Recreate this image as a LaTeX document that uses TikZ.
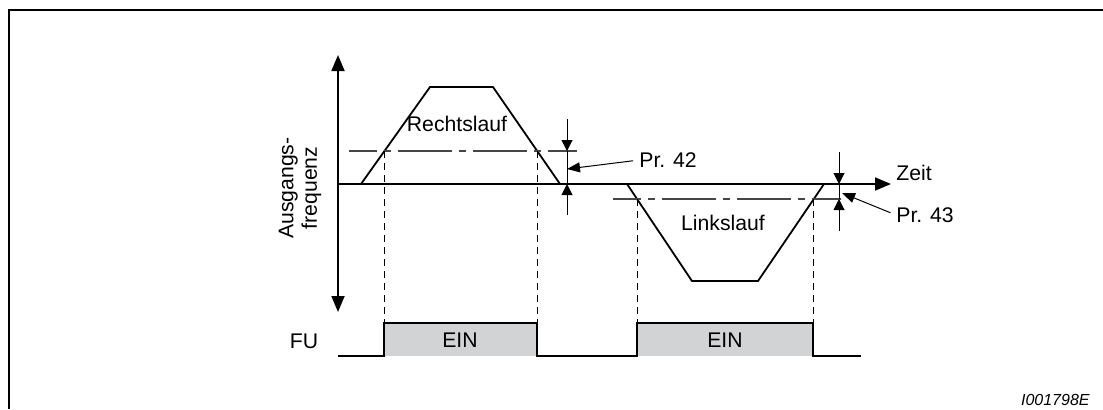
\documentclass[tikz,border=0pt]{standalone}
\usepackage{fontspec}
\setmainfont{Liberation Sans}
\usetikzlibrary{arrows.meta,positioning,calc}
\definecolor{einfill}{RGB}{210,211,213}
\definecolor{hilfsgrau}{RGB}{70,70,70}

\tikzset{
  achse/.style={line width=0.9pt,-{Triangle[length=8pt,width=6.5pt]}},
  kurve/.style={line width=0.9pt},
  strichpunkt/.style={hilfsgrau,line width=0.55pt,dash pattern=on 27pt off 3.5pt on 3.5pt off 3.5pt,dash phase=13pt},
  gestrichelt/.style={line width=0.5pt,dash pattern=on 3.5pt off 2.5pt},
  masslinie/.style={line width=0.5pt},
  masspfeil/.style={line width=0.5pt,-{Triangle[length=5.5pt,width=5.5pt]}},
  zeiger/.style={line width=0.5pt,shorten <=3pt,-{Triangle[length=6.5pt,width=5pt]}},
  txt/.style={inner sep=0pt}
}

\begin{document}
\begin{tikzpicture}[x=0.5pt,y=-0.5pt,font=\fontsize{10.6}{11.8}\selectfont]
\useasboundingbox (0,0) rectangle (1103,409);
\draw[line width=1pt] (9,409) -- (9,10) -- (1103,10);

\coordinate (yoben) at (338,55);
\coordinate (yunten) at (338,312);
\coordinate (null) at (338,184);
\coordinate (xende) at (891,184);
\draw[achse,{Triangle[length=8pt,width=6.5pt]}-{Triangle[length=8pt,width=6.5pt]}] (yunten) -- (yoben);
\draw[achse] (null) -- (xende);
\node[txt,anchor=west] (zeit) at (896,173) {Zeit};
\node[txt,rotate=90,align=center] (ausgang) at (300,188) {Ausgangs-\\frequenz};

\coordinate (r0) at (361,184);
\coordinate (r1) at (430,87);
\coordinate (r2) at (493,87);
\coordinate (r3) at (560,184);
\draw[kurve] (r0) -- (r1) -- (r2) -- (r3);
\node[txt] (rechts) at (457,124) {Rechtslauf};

\coordinate (l0) at (627,184);
\coordinate (l1) at (692,281);
\coordinate (l2) at (758,281);
\coordinate (l3) at (824,184);
\draw[kurve] (l0) -- (l1) -- (l2) -- (l3);
\node[txt] (links) at (723,223) {Linkslauf};

\coordinate (sr0) at (349,151);
\coordinate (sr1) at (577,151);
\coordinate (sl0) at (613,199);
\coordinate (sl1) at (841,199);
\draw[strichpunkt] (sr0) -- (sr1);
\draw[strichpunkt] (sl0) -- (sl1);

\fill[einfill] (384,323) rectangle (537,356);
\fill[einfill] (637,323) rectangle (813,356);
\coordinate (fu0) at (338,356);
\coordinate (fu1) at (384,356);
\coordinate (fu2) at (384,323);
\coordinate (fu3) at (537,323);
\coordinate (fu4) at (537,356);
\coordinate (fu5) at (637,356);
\coordinate (fu6) at (637,323);
\coordinate (fu7) at (813,323);
\coordinate (fu8) at (813,356);
\coordinate (fu9) at (861,356);
\draw[line width=0.8pt] (fu0) -- (fu1) -- (fu2) -- (fu3) -- (fu4) -- (fu5) -- (fu6) -- (fu7) -- (fu8) -- (fu9);
\node[txt] (fu) at (304,341) {FU};
\node[txt] (ein1) at (460,340) {EIN};
\node[txt] (ein2) at (725,340) {EIN};

\coordinate (d1) at (384,151);
\coordinate (d2) at (537,151);
\coordinate (d3) at (637,199);
\coordinate (d4) at (813,199);
\draw[gestrichelt] (d1) -- (fu2);
\draw[gestrichelt] (d2) -- (fu3);
\draw[gestrichelt] (d3) -- (fu6);
\draw[gestrichelt] (d4) -- (fu7);

\coordinate (m42o) at (567,119);
\coordinate (m42a) at (567,151);
\coordinate (m42b) at (567,184);
\coordinate (m42u) at (567,215);
\draw[masslinie] (m42a) -- (m42b);
\draw[masspfeil] (m42o) -- (m42a);
\draw[masspfeil] (m42u) -- (m42b);
\node[txt,anchor=west] (pr42) at (639,160) {Pr. 42};
\coordinate (z42) at (567,169);
\draw[zeiger] (pr42.west) -- (z42);

\coordinate (m43o) at (839,152);
\coordinate (m43a) at (839,184);
\coordinate (m43b) at (839,199);
\coordinate (m43u) at (839,231);
\draw[masslinie] (m43a) -- (m43b);
\draw[masspfeil] (m43o) -- (m43a);
\draw[masspfeil] (m43u) -- (m43b);
\node[txt,anchor=west] (pr43) at (896,215) {Pr. 43};
\coordinate (z43) at (842,193);
\draw[zeiger] (pr43.west) -- (z43);

\node[txt,anchor=east,font=\fontsize{8}{9}\selectfont\itshape] (bildnr) at (1090,400) {I001798E};
\end{tikzpicture}
\end{document}
